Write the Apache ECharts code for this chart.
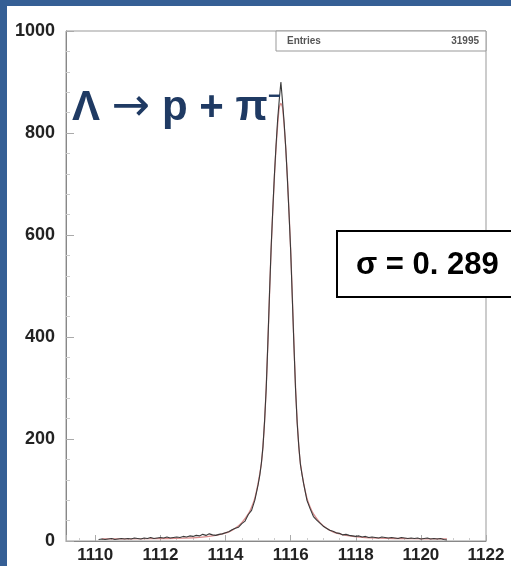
<!DOCTYPE html>
<html><head><meta charset="utf-8">
<script src="https://cdn.jsdelivr.net/npm/echarts@6/dist/echarts.min.js"></script>
<style>html,body{margin:0;padding:0;background:#fff}#c{width:511px;height:566px}</style>
</head><body><div id="c"></div>
<script>
// Histogram of invariant mass (MeV) — bin centres and counts
const massBins = [
 1110.1,1110.2,1110.3,1110.4,1110.5,1110.6,1110.7,1110.8,1110.9,1111.0,
 1111.1,1111.2,1111.3,1111.4,1111.5,1111.6,1111.7,1111.8,1111.9,1112.0,
 1112.1,1112.2,1112.3,1112.4,1112.5,1112.6,1112.7,1112.8,1112.9,1113.0,
 1113.1,1113.2,1113.3,1113.4,1113.5,1113.6,1113.7,1113.8,1113.9,1114.0,
 1114.1,1114.2,1114.3,1114.4,1114.5,1114.6,1114.7,1114.8,1114.9,1115.0,
 1115.05,1115.1,1115.15,1115.2,1115.25,1115.3,1115.35,1115.4,1115.45,1115.5,
 1115.55,1115.6,1115.65,1115.7,1115.75,1115.8,1115.85,1115.9,1115.95,1116.0,
 1116.05,1116.1,1116.15,1116.2,1116.25,1116.3,1116.35,1116.4,1116.5,1116.6,
 1116.7,1116.8,1116.9,1117.0,1117.1,1117.2,1117.3,1117.4,1117.5,1117.6,
 1117.7,1117.8,1117.9,1118.0,1118.1,1118.2,1118.3,1118.4,1118.5,1118.6,
 1118.7,1118.8,1118.9,1119.0,1119.1,1119.2,1119.3,1119.4,1119.5,1119.6,
 1119.7,1119.8,1119.9,1120.0,1120.1,1120.2,1120.3,1120.4,1120.5,1120.6,
 1120.7,1120.8
];
const counts = [
 3,4,3,4,5,3,4,5,4,5,
 4,6,5,4,6,5,7,5,6,7,
 6,8,6,7,8,7,9,8,10,9,
 11,10,13,11,14,12,11,13,14,16,
 18,22,25,27,34,39,52,60,80,110,
 128,152,185,236,300,388,484,574,648,716,
 774,826,865,900,862,820,770,710,642,570,
 478,385,298,232,186,150,130,112,80,63,
 48,41,35,29,25,21,19,16,15,12,
 13,11,10,9,10,8,9,7,8,7,
 6,8,7,6,7,6,5,7,6,5,
 6,5,6,4,5,6,4,5,4,5,
 3,2
];
// Fit curve (red)
const fitMass = [
 1110.2,1111.7,1112.7,1113.2,1113.7,1113.9,1114.1,1114.3,1114.5,1114.7,
 1114.8,1114.9,1115.0,1115.1,1115.15,1115.2,1115.25,1115.3,1115.35,1115.4,
 1115.45,1115.5,1115.55,1115.6,1115.65,1115.7,1115.75,1115.8,1115.85,1115.9,
 1115.95,1116.0,1116.05,1116.1,1116.15,1116.2,1116.25,1116.3,1116.4,1116.5,
 1116.6,1116.7,1116.9,1117.1,1117.3,1117.5,1117.7,1118.2,1118.7,1119.7,
 1120.8
];
const fitCounts = [
 4,4.5,5.5,7,11,14,18,25,36,53,
 66,84,113,152,186,235,302,388,482,572,
 645,712,770,815,850,858,850,815,770,712,
 645,572,482,388,302,235,186,152,113,84,
 66,53,36,25,18,14,11,7,5.5,4.5,
 4
];
const xTickLabels = ['1110','1112','1114','1116','1118','1120','1122'];
const yTickLabels = ['0','200','400','600','800','1000'];
const entriesLabel = 'Entries';
const entriesValue = '31995';
const titleParts = ['Λ', '→', 'p + π'];
const titleSup = '−';
const sigmaText = 'σ = 0. 289';

const chart = echarts.init(document.getElementById('c'), null, {renderer: 'canvas'});
const dataPts = massBins.map((m, i) => [m, counts[i]]);
const fitPts = fitMass.map((m, i) => [m, fitCounts[i]]);
const FONT = '"Liberation Sans", Arial, sans-serif';
const NAVY = '#1f3a63';

chart.setOption({
  animation: false,
  backgroundColor: '#ffffff',
  grid: {left: 66, right: 25, top: 31, bottom: 25, show: true, borderColor: '#999', borderWidth: 1, backgroundColor: 'transparent'},
  xAxis: {
    type: 'value', min: 1109.1, max: 1122, splitNumber: 6,
    axisLine: {show: true, lineStyle: {color: '#888', width: 1}},
    axisTick: {show: true, inside: true, length: 6, lineStyle: {color: '#aaa'}},
    minorTick: {show: true, splitNumber: 4, length: 3, lineStyle: {color: '#ccc'}},
    splitLine: {show: false},
    axisLabel: {
      margin: 6, color: '#222', fontSize: 17, fontWeight: 'bold', fontFamily: FONT,
      formatter: v => xTickLabels.includes(String(v)) ? String(v) : ''
    }
  },
  yAxis: {
    type: 'value', min: 0, max: 1000, interval: 200,
    axisLine: {show: true, lineStyle: {color: '#888', width: 1}},
    axisTick: {show: true, inside: true, length: 8, lineStyle: {color: '#aaa'}},
    minorTick: {show: true, splitNumber: 5, length: 4, lineStyle: {color: '#ccc'}},
    splitLine: {show: false},
    axisLabel: {
      margin: 11, color: '#222', fontSize: 18, fontWeight: 'bold', fontFamily: FONT,
      formatter: v => yTickLabels.includes(String(v)) ? String(v) : ''
    }
  },
  series: [
    {type: 'line', data: fitPts, showSymbol: false, symbol: 'none', smooth: 0.2,
     lineStyle: {color: '#d98a8a', width: 1.3}, z: 2},
    {type: 'line', data: dataPts, showSymbol: false, symbol: 'none',
     lineStyle: {color: '#3a3a3a', width: 1.1}, z: 3}
  ],
  graphic: [
    {type: 'rect', shape: {x: 0, y: 0, width: 511, height: 6}, style: {fill: '#355f95'}, z: 100},
    {type: 'rect', shape: {x: 0, y: 0, width: 7, height: 566}, style: {fill: '#355f95'}, z: 100},
    {type: 'rect', shape: {x: 276, y: 31, width: 210, height: 20}, style: {fill: '#fff', stroke: '#999', lineWidth: 1}, z: 50},
    {type: 'text', x: 287, y: 41, style: {text: entriesLabel, fill: '#555', fontSize: 10, fontWeight: 'bold', fontFamily: FONT, align: 'left', verticalAlign: 'middle'}, z: 51},
    {type: 'text', x: 479, y: 41, style: {text: entriesValue, fill: '#555', fontSize: 10, fontWeight: 'bold', fontFamily: FONT, align: 'right', verticalAlign: 'middle'}, z: 51},
    {type: 'text', x: 72, y: 108, style: {
      text: '{t|' + titleParts[0] + '} {a|' + titleParts[1] + '} {t|' + titleParts[2] + '}',
      fill: NAVY, fontSize: 42, fontWeight: 'bold', fontFamily: FONT, align: 'left', verticalAlign: 'middle',
      rich: {
        t: {fill: NAVY, fontSize: 42, fontWeight: 'bold', fontFamily: FONT},
        a: {fill: NAVY, fontSize: 46, fontWeight: 'normal', fontFamily: '"DejaVu Sans", sans-serif'}
      }}, z: 60},
    {type: 'text', x: 268, y: 97, style: {text: titleSup, fill: NAVY, fontSize: 22, fontWeight: 'bold', fontFamily: FONT, align: 'left', verticalAlign: 'middle'}, z: 60},
    {type: 'rect', shape: {x: 337, y: 231, width: 190, height: 66}, style: {fill: '#fff', stroke: '#000', lineWidth: 2}, z: 70},
    {type: 'text', x: 356, y: 265, style: {text: sigmaText, fill: '#000', fontSize: 31, fontWeight: 'bold', fontFamily: FONT, align: 'left', verticalAlign: 'middle'}, z: 71}
  ]
});
</script></body></html>
